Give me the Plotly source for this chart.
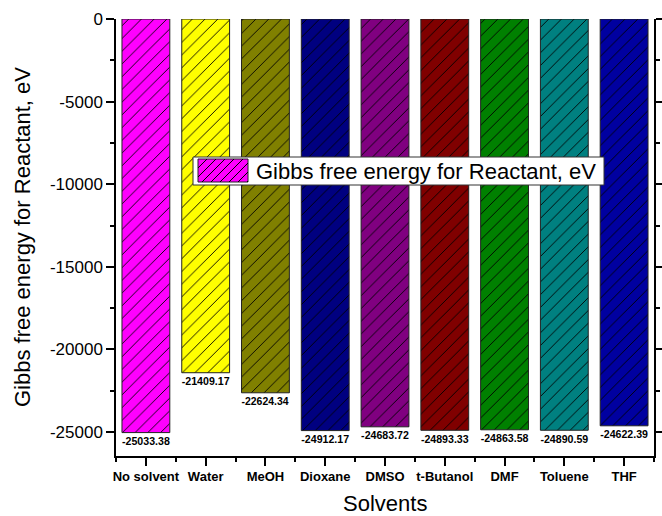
import plotly.graph_objects as go

solvents = ["No solvent", "Water", "MeOH", "Dioxane", "DMSO", "t-Butanol", "DMF", "Toluene", "THF"]
gibbs_reactant = [-25033.38, -21409.17, -22624.34, -24912.17, -24683.72, -24893.33, -24863.58, -24890.59, -24622.39]
bar_colors = ["#FF00FF", "#FFFF00", "#808000", "#000080", "#800080", "#800000", "#008000", "#008080", "#0000A0"]
y_ticks = [0, -5000, -10000, -15000, -20000, -25000]
series_name = "Gibbs free energy for Reactant, eV"

W, H = 662, 516
L, R, T, B = 116, 8, 19, 60
PW, PH = W - L - R, H - T - B
HATCH = 9


def px(xp):
    return (xp - L) / PW


def py(yp):
    return (H - B - yp) / PH


positions = list(range(len(solvents)))
FONT = "Arial, Liberation Sans, sans-serif"

fig = go.Figure()
# solid coloured bars
fig.add_trace(go.Bar(
    x=positions,
    y=gibbs_reactant,
    width=0.8,
    name=series_name,
    marker=dict(color=bar_colors, line=dict(width=0)),
    hoverinfo="skip",
    showlegend=False,
))
# black "/" hatching with outline and value labels on top of the same bars
fig.add_trace(go.Bar(
    x=positions,
    y=gibbs_reactant,
    width=0.8,
    name=series_name,
    marker=dict(
        color="black",
        line=dict(color="#222222", width=1),
        pattern=dict(shape="/", bgcolor="rgba(0,0,0,0)", size=HATCH, solidity=0.1, fillmode="replace"),
    ),
    text=[f"{v:.2f}" for v in gibbs_reactant],
    textposition="outside",
    textfont=dict(family=FONT, size=11, color="black", weight="bold"),
    cliponaxis=False,
    showlegend=False,
))

# legend box drawn by hand: frame, hatched swatch, label
shapes = [
    dict(type="rect", xref="paper", yref="paper",
         x0=px(193), x1=px(604), y0=py(185), y1=py(157),
         fillcolor="white", line=dict(color="#333333", width=1), layer="above"),
    dict(type="rect", xref="paper", yref="paper",
         x0=px(198), x1=px(248), y0=py(182), y1=py(159),
         fillcolor=bar_colors[0], line=dict(color="#222222", width=1), layer="above"),
]
# diagonal hatch inside the swatch
sx0, sx1, sy0, sy1 = 198, 248, 159, 182
hh = sy1 - sy0
segs = []
c = sx0 - hh
while c < sx1:
    xa, ya = c, sy1
    xb, yb = c + hh, sy0
    if xa < sx0:
        ya = sy1 - (sx0 - xa)
        xa = sx0
    if xb > sx1:
        yb = sy0 + (xb - sx1)
        xb = sx1
    if xb > xa:
        segs.append(f"M{px(xa)},{py(ya)} L{px(xb)},{py(yb)}")
    c += HATCH
shapes.append(dict(type="path", xref="paper", yref="paper", path=" ".join(segs),
                   line=dict(color="black", width=1), layer="above"))

annotations = [
    dict(text=series_name, xref="paper", yref="paper", x=px(254), y=py(171),
         xanchor="left", yanchor="middle", showarrow=False,
         font=dict(family=FONT, size=22, color="black")),
    dict(text="Solvents", xref="paper", yref="paper", x=0.5, y=py(503),
         xanchor="center", yanchor="middle", showarrow=False,
         font=dict(family=FONT, size=22, color="black")),
    dict(text=series_name, xref="paper", yref="paper", x=px(23), y=py(237),
         xanchor="center", yanchor="middle", showarrow=False, textangle=-90,
         font=dict(family=FONT, size=22, color="black")),
]

fig.update_layout(
    width=W, height=H,
    margin=dict(l=L, r=R, t=T, b=B),
    plot_bgcolor="white", paper_bgcolor="white",
    font=dict(family=FONT, color="black"),
    showlegend=False,
    barmode="overlay",
    shapes=shapes,
    annotations=annotations,
    xaxis=dict(
        range=[-0.5, len(solvents) - 0.5],
        tickvals=positions, ticktext=solvents,
        tickfont=dict(size=13, weight="bold"),
        showline=True, linecolor="black", linewidth=1.5,
        ticks="outside", ticklen=8, tickwidth=1.5, tickcolor="black",
        minor=dict(tick0=0.5, dtick=1, ticks="outside", ticklen=4, tickwidth=1.5, tickcolor="black"),
        showgrid=False, zeroline=False, automargin=False,
    ),
    yaxis=dict(
        range=[-26450, 0],
        tickvals=y_ticks, ticktext=[str(v) for v in y_ticks],
        tickfont=dict(size=17),
        showline=True, linecolor="black", linewidth=1.5, mirror="ticks",
        ticks="outside", ticklen=8, tickwidth=1.5, tickcolor="black",
        minor=dict(dtick=2500, ticks="outside", ticklen=4, tickwidth=1.5, tickcolor="black"),
        showgrid=False, zeroline=False, automargin=False,
    ),
)

fig.write_html("out.html")
